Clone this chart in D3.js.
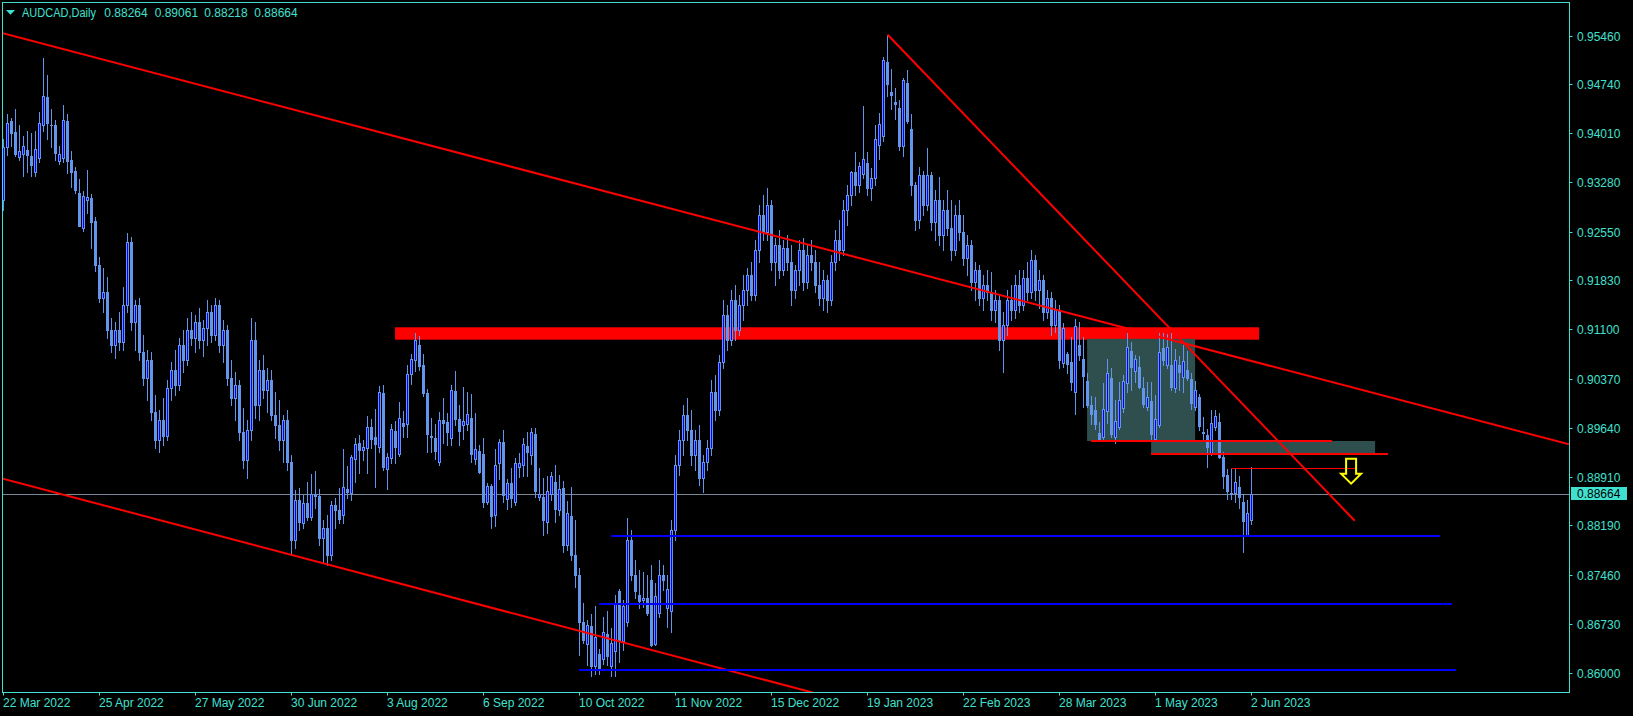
<!DOCTYPE html>
<html><head><meta charset="utf-8">
<script src="https://cdn.jsdelivr.net/npm/d3@7"></script>
<style>html,body{margin:0;padding:0;background:#000;overflow:hidden}</style>
</head><body>
<svg id="c" width="1633" height="716"></svg>
<script>
// ---------- data ----------
const symbolTitle = "AUDCAD,Daily";
const lastBarValues = ["0.88264", "0.89061", "0.88218", "0.88664"];
const priceTicks = [0.95460, 0.94740, 0.94010, 0.93280, 0.92550, 0.91830, 0.91100, 0.90370, 0.89640, 0.88910, 0.88190, 0.87460, 0.86730, 0.86000];
const dateTickBars = [0, 24, 48, 72, 96, 120, 144, 168, 192, 216, 240, 264, 288, 312];
const dateTickLabels = ["22 Mar 2022", "25 Apr 2022", "27 May 2022", "30 Jun 2022", "3 Aug 2022", "6 Sep 2022", "10 Oct 2022", "11 Nov 2022", "15 Dec 2022", "19 Jan 2023", "22 Feb 2023", "28 Mar 2023", "1 May 2023", "2 Jun 2023"];
const currentPrice = 0.88664;

// daily bars, 22 Mar 2022 (bar 0) ... 2 Jun 2023 (bar 312)
const opens = [
.9302,.9380,.9419,.9403,.9366,.9371,.9376,.9367,.9343,.9365,
.9413,.9455,.9413,.9413,.9360,.9365,.9419,.9361,.9345,.9312,
.9261,.9302,.9305,.9271,.9205,.9156,.9165,.9109,.9087,.9109,
.9091,.9146,.9240,.9121,.9146,.9076,.9038,.9065,.8987,.8946,
.8976,.8952,.9023,.9050,.9027,.9087,.9065,.9109,.9097,.9121,
.9094,.9112,.9136,.9102,.9146,.9087,.9109,.9038,.9008,.9027,
.8958,.8916,.8961,.9094,.8998,.9050,.9020,.9035,.8983,.8968,
.8946,.8976,.8913,.8797,.8857,.8823,.8852,.8831,.8866,.8863,
.8800,.8815,.8775,.8849,.8842,.8835,.8873,.8867,.8918,.8941,
.8931,.8934,.8965,.8950,.8935,.9016,.8903,.8919,.8959,.8925,
.8971,.8970,.9044,.9065,.9087,.9057,.9016,.8952,.8949,.8913,
.8976,.8972,.8949,.9019,.8977,.8968,.8970,.8978,.8917,.8929,
.8925,.8854,.8878,.8835,.8912,.8943,.8858,.8882,.8854,.8906,
.8909,.8937,.8924,.8955,.8861,.8861,.8824,.8866,.8883,.8842,
.8875,.8790,.8833,.8775,.8745,.8676,.8643,.8670,.8610,.8628,
.8621,.8658,.8610,.8633,.8722,.8647,.8676,.8797,.8745,.8716,
.8708,.8711,.8738,.8643,.8689,.8745,.8696,.8692,.8812,.8909,
.8946,.8983,.8961,.8924,.8946,.8889,.8913,.8934,.9017,.8990,
.9062,.9131,.9094,.9154,.9109,.9146,.9168,.9191,.9161,.9228,
.9280,.9254,.9295,.9210,.9235,.9198,.9231,.9210,.9168,.9198,
.9228,.9180,.9220,.9210,.9176,.9157,.9183,.9154,.9210,.9243,
.9228,.9287,.9309,.9343,.9324,.9341,.9357,.9320,.9335,.9384,
.9397,.9507,.9462,.9447,.9439,.9382,.9476,.9407,.9324,.9272,
.9339,.9295,.9339,.9269,.9302,.9250,.9287,.9260,.9228,.9280,
.9254,.9216,.9235,.9180,.9198,.9157,.9176,.9165,.9139,.9154,
.9094,.9117,.9154,.9139,.9176,.9146,.9186,.9165,.9213,.9168,
.9183,.9136,.9157,.9117,.9139,.9060,.9073,.9062,.9017,.9087,
.9066,.9033,.8998,.8990,.8956,.8950,.8989,.9038,.8950,.8965,
.8993,.9030,.9078,.9048,.9054,.9023,.8995,.9004,.8947,.8968,
.9082,.9057,.9057,.9023,.9057,.9039,.9050,.9036,.8995,.9010,
.8958,.8953,.8926,.8965,.8973,.8921,.8894,.8867,.8867,.8876,
.8854,.8805,.88264];
const highs = [
.9392,.9429,.9424,.9437,.9413,.9397,.9404,.9401,.9404,.9433,
.9513,.9487,.9437,.9421,.9382,.9443,.9430,.9375,.9351,.9333,
.9315,.9346,.9311,.9277,.9217,.9201,.9188,.9127,.9121,.9136,
.9173,.9253,.9247,.9154,.9157,.9102,.9079,.9076,.9013,.8990,
.9008,.9035,.9062,.9079,.9097,.9109,.9127,.9136,.9131,.9142,
.9124,.9154,.9146,.9157,.9154,.9124,.9117,.9065,.9047,.9035,
.8993,.8976,.9127,.9121,.9065,.9072,.9053,.9050,.9017,.9005,
.8983,.8990,.8924,.8872,.8875,.8864,.8883,.8895,.8900,.8873,
.8827,.8835,.8855,.8860,.8875,.8932,.8907,.8924,.8949,.8953,
.8946,.8981,.8977,.8992,.9026,.9027,.8926,.8970,.8974,.9002,
.8989,.9057,.9073,.9104,.9100,.9073,.9021,.8978,.8970,.8987,
.9008,.8986,.9027,.9048,.8998,.9024,.9017,.9014,.8986,.8938,
.8949,.8882,.8881,.8932,.8947,.8961,.8888,.8904,.8919,.8926,
.8949,.8958,.8964,.8964,.8904,.8889,.8892,.8898,.8909,.8894,
.8885,.8855,.8876,.8827,.8756,.8704,.8679,.8688,.8699,.8636,
.8683,.8692,.8667,.8716,.8725,.8708,.8830,.8812,.8768,.8753,
.8750,.8745,.8760,.8734,.8768,.8760,.8745,.8827,.8924,.8961,
.8998,.9008,.8990,.8961,.8968,.8924,.8946,.9035,.9042,.9072,
.9154,.9146,.9168,.9176,.9161,.9191,.9201,.9210,.9243,.9295,
.9309,.9320,.9302,.9246,.9257,.9243,.9250,.9235,.9206,.9243,
.9246,.9235,.9243,.9228,.9210,.9198,.9191,.9220,.9257,.9272,
.9302,.9324,.9345,.9373,.9358,.9441,.9373,.9349,.9413,.9431,
.9514,.9547,.9496,.9468,.9450,.9483,.9495,.9430,.9329,.9351,
.9345,.9379,.9343,.9317,.9336,.9302,.9317,.9302,.9295,.9302,
.9280,.9250,.9243,.9210,.9206,.9191,.9198,.9195,.9168,.9161,
.9136,.9168,.9176,.9191,.9198,.9198,.9210,.9228,.9220,.9198,
.9191,.9168,.9165,.9154,.9146,.9119,.9076,.9099,.9125,.9121,
.9099,.9045,.9011,.9010,.8973,.9030,.9066,.9053,.9005,.9032,
.9042,.9104,.9091,.9072,.9071,.9039,.9032,.9032,.9013,.9104,
.9104,.9103,.9104,.9081,.9071,.9087,.9078,.9045,.9033,.9014,
.8980,.8962,.8990,.8990,.8986,.8928,.8903,.8903,.8903,.8892,
.8865,.8857,.89061];
const lows = [
.9287,.9369,.9382,.9368,.9361,.9337,.9343,.9337,.9338,.9359,
.9405,.9393,.9380,.9361,.9356,.9359,.9342,.9322,.9313,.9264,
.9256,.9283,.9231,.9196,.9151,.9136,.9097,.9076,.9068,.9079,
.9079,.9136,.9109,.9079,.9065,.9027,.9005,.8976,.8934,.8928,
.8938,.8946,.9005,.9013,.9020,.9047,.9057,.9087,.9076,.9082,
.9071,.9087,.9091,.9094,.9076,.9062,.9027,.8998,.8976,.8946,
.8904,.8889,.8946,.8978,.8976,.9008,.8987,.8976,.8949,.8931,
.8913,.8901,.8775,.8786,.8812,.8815,.8827,.8827,.8845,.8790,
.8765,.8760,.8768,.8815,.8823,.8823,.8860,.8857,.8883,.8897,
.8916,.8897,.8934,.8876,.8928,.8901,.8873,.8912,.8912,.8922,
.8950,.8950,.9029,.9048,.9050,.9011,.8928,.8928,.8917,.8909,
.8941,.8938,.8938,.8968,.8938,.8947,.8961,.8913,.8910,.8897,
.8846,.8851,.8815,.8818,.8888,.8854,.8843,.8846,.8849,.8891,
.8892,.8892,.8910,.8861,.8857,.8805,.8808,.8857,.8824,.8835,
.8780,.8783,.8768,.8728,.8627,.8644,.8612,.8596,.8599,.8599,
.8613,.8612,.8596,.8596,.8616,.8634,.8670,.8738,.8711,.8696,
.8698,.8686,.8640,.8641,.8683,.8723,.8668,.8661,.8797,.8894,
.8924,.8946,.8909,.8901,.8879,.8869,.8901,.8924,.8976,.8983,
.9053,.9079,.9087,.9094,.9102,.9124,.9146,.9154,.9154,.9210,
.9243,.9243,.9198,.9176,.9186,.9191,.9198,.9146,.9157,.9176,
.9168,.9171,.9198,.9165,.9146,.9139,.9136,.9146,.9198,.9213,
.9220,.9265,.9295,.9309,.9314,.9335,.9309,.9302,.9324,.9363,
.9390,.9456,.9437,.9422,.9376,.9367,.9416,.9309,.9257,.9260,
.9280,.9287,.9257,.9243,.9235,.9228,.9250,.9213,.9220,.9243,
.9206,.9191,.9168,.9154,.9146,.9139,.9154,.9124,.9121,.9079,
.9047,.9102,.9124,.9127,.9136,.9139,.9154,.9157,.9154,.9142,
.9124,.9127,.9102,.9106,.9053,.9054,.9045,.9020,.8984,.9065,
.8995,.8995,.8970,.8962,.8946,.8947,.8971,.8950,.8941,.8962,
.8987,.9017,.9020,.9032,.9023,.8995,.8990,.8947,.8944,.8965,
.9057,.9053,.9020,.9017,.9020,.9017,.9035,.8992,.8990,.8961,
.8946,.8906,.8924,.8961,.8919,.8875,.8858,.8858,.8854,.8845,
.8780,.8803,.88218];
const closes = [
.9381,.9416,.9402,.9371,.9374,.9382,.9369,.9354,.9378,.9416,
.9457,.9417,.9413,.9372,.9370,.9421,.9360,.9344,.9317,.9264,
.9308,.9306,.9270,.9205,.9156,.9165,.9109,.9087,.9109,.9091,
.9146,.9240,.9121,.9146,.9076,.9038,.9065,.8987,.8946,.8976,
.8952,.9023,.9050,.9027,.9087,.9065,.9109,.9097,.9121,.9094,
.9112,.9136,.9102,.9146,.9087,.9109,.9038,.9008,.9027,.8958,
.8916,.8961,.9094,.8998,.9050,.9020,.9035,.8983,.8968,.8946,
.8976,.8913,.8797,.8857,.8824,.8852,.8831,.8866,.8863,.8800,
.8815,.8775,.8849,.8842,.8829,.8876,.8869,.8921,.8940,.8931,
.8935,.8965,.8947,.8940,.9017,.8906,.8921,.8962,.8935,.8978,
.8967,.9044,.9066,.9094,.9056,.9016,.8955,.8950,.8929,.8976,
.8971,.8958,.9020,.8977,.8959,.8974,.8984,.8925,.8932,.8898,
.8854,.8878,.8833,.8909,.8943,.8864,.8882,.8860,.8912,.8912,
.8940,.8928,.8958,.8870,.8866,.8827,.8870,.8892,.8843,.8873,
.8790,.8837,.8775,.8745,.8676,.8649,.8671,.8610,.8653,.8607,
.8661,.8625,.8644,.8702,.8647,.8699,.8797,.8745,.8722,.8707,
.8711,.8689,.8641,.8714,.8745,.8738,.8725,.8812,.8909,.8946,
.8983,.8961,.8924,.8946,.8889,.8913,.8934,.9017,.8990,.9062,
.9131,.9094,.9154,.9109,.9146,.9168,.9191,.9161,.9228,.9280,
.9254,.9295,.9210,.9235,.9198,.9231,.9210,.9168,.9198,.9228,
.9180,.9220,.9210,.9176,.9157,.9183,.9154,.9210,.9243,.9228,
.9287,.9309,.9343,.9324,.9352,.9363,.9320,.9335,.9392,.9415,
.9510,.9474,.9458,.9445,.9382,.9480,.9419,.9324,.9272,.9339,
.9295,.9339,.9269,.9302,.9250,.9287,.9260,.9228,.9280,.9254,
.9216,.9235,.9180,.9198,.9157,.9176,.9165,.9139,.9154,.9094,
.9117,.9154,.9139,.9176,.9146,.9186,.9165,.9213,.9168,.9183,
.9136,.9157,.9117,.9139,.9065,.9112,.9059,.9032,.9115,.9072,
.9041,.8998,.8984,.8970,.8947,.8992,.9045,.8955,.8974,.9005,
.9033,.9084,.9054,.9066,.9024,.8999,.9010,.8955,.8977,.9076,
.9065,.9084,.9024,.9065,.9047,.9063,.9038,.9001,.9020,.8967,
.8956,.8935,.8971,.8981,.8921,.8892,.8870,.8866,.8883,.8861,
.8826,.8837,.88664];

// drawn objects: anchors as [bar, price]
const channelRays = [
  [[0, 0.95492], [391, 0.89400]],
  [[0, 0.88881], [200, 0.85746]]
];
const trendSegments = [
  [[221.05, 0.95473], [337.8, 0.88260]]
];
const resistanceBand = {b1: 97.9, b2: 313.9, p1: 0.91131, p2: 0.90947};
const zoneRects = [
  {b1: 270.9, b2: 297.9, p1: 0.9096, p2: 0.89443},
  {b1: 286.9, b2: 342.9, p1: 0.89443, p2: 0.89250}
];
const redLevels = [
  {b1: 271.9, b2: 332.1, p: 0.89443, w: 2},
  {b1: 286.9, b2: 346.1, p: 0.89250, w: 2},
  {b1: 306.9, b2: 337.9, p: 0.89038, w: 1}
];
const blueLevels = [
  {b1: 151.9, b2: 359.1, p: 0.88033},
  {b1: 148.9, b2: 362.1, p: 0.87024},
  {b1: 143.9, b2: 363.1, p: 0.86045}
];
const arrowMark = {b: 336.9, p: 0.88810};

// ---------- drawing ----------
const W = 1633, H = 716;
const FG = "#40E0D0", CANDLE = "#6495ED", BULLFILL = "#0000FF";
const plot = {left: 2.5, top: 2.5, right: 1569.5, bottom: 692.5};
const svg = d3.select("#c");
svg.append("rect").attr("width", W).attr("height", H).attr("fill", "#000");

const x = d3.scaleLinear().domain([0, 312]).range([3.5, 1251.5]);
const y = d3.scaleLinear().domain([0.86, 0.9546]).range([673.0, 35.6]);

svg.append("defs").append("clipPath").attr("id", "plotclip")
  .append("rect").attr("x", 3).attr("y", 3).attr("width", 1566).attr("height", 689);
const g = svg.append("g").attr("clip-path", "url(#plotclip)");

// background objects
g.append("rect")
  .attr("x", x(resistanceBand.b1)).attr("width", x(resistanceBand.b2) - x(resistanceBand.b1))
  .attr("y", y(resistanceBand.p1)).attr("height", y(resistanceBand.p2) - y(resistanceBand.p1))
  .attr("fill", "#FF0000");
zoneRects.forEach(r => {
  g.append("rect")
    .attr("x", x(r.b1)).attr("width", x(r.b2) - x(r.b1))
    .attr("y", y(r.p1)).attr("height", y(r.p2) - y(r.p1))
    .attr("fill", "#2F4F4F");
});
// current price line
const yc = Math.round(y(currentPrice)) + 0.5;
g.append("line").attr("x1", plot.left).attr("x2", plot.right).attr("y1", yc).attr("y2", yc)
  .attr("stroke", "#778899").attr("stroke-width", 1);

// candles
const bars = opens.map((o, k) => ({b: k, o, h: highs[k], l: lows[k], c: closes[k]}));
const cg = g.append("g");
bars.forEach(d => {
  const cx = Math.round(x(d.b) - 0.5) + 0.5;
  const yH = Math.round(y(d.h)), yL = Math.round(y(d.l));
  let yT = Math.round(y(Math.max(d.o, d.c))), yB = Math.round(y(Math.min(d.o, d.c)));
  if (yB - yT < 1) yB = yT;
  cg.append("rect").attr("x", cx - 0.5).attr("width", 1).attr("y", yH).attr("height", Math.max(1, yL - yH + 1)).attr("fill", CANDLE);
  cg.append("rect").attr("x", cx - 1.5).attr("width", 3).attr("y", yT).attr("height", yB - yT + 1).attr("fill", CANDLE);
  if (d.c > d.o && yB - yT >= 2) {
    cg.append("rect").attr("x", cx - 0.5).attr("width", 1).attr("y", yT + 1).attr("height", yB - yT - 1).attr("fill", BULLFILL);
  }
});

// trend lines
const xL = x.invert(plot.left), xR = x.invert(plot.right);
channelRays.forEach(([a, b]) => {
  const slope = (b[1] - a[1]) / (b[0] - a[0]);
  const pAt = t => a[1] + slope * (t - a[0]);
  g.append("line").attr("x1", x(xL)).attr("y1", y(pAt(xL))).attr("x2", x(xR)).attr("y2", y(pAt(xR)))
    .attr("stroke", "#FF0000").attr("stroke-width", 2);
});
trendSegments.forEach(([a, b]) => {
  g.append("line").attr("x1", x(a[0])).attr("y1", y(a[1])).attr("x2", x(b[0])).attr("y2", y(b[1]))
    .attr("stroke", "#FF0000").attr("stroke-width", 2);
});
redLevels.forEach(l => {
  const yy = Math.round(y(l.p)) + (l.w === 1 ? 0.5 : 0);
  g.append("line").attr("x1", x(l.b1)).attr("x2", x(l.b2)).attr("y1", yy).attr("y2", yy)
    .attr("stroke", "#FF0000").attr("stroke-width", l.w);
});
blueLevels.forEach(l => {
  const yy = Math.round(y(l.p));
  g.append("line").attr("x1", x(l.b1)).attr("x2", x(l.b2)).attr("y1", yy).attr("y2", yy)
    .attr("stroke", "#0000FF").attr("stroke-width", 2);
});
// down arrow
{
  const ax = x(arrowMark.b), ay = y(arrowMark.p);
  const pts = [[0, 0], [-10, -10], [-5, -10], [-5, -25], [5, -25], [5, -10], [10, -10]];
  g.append("polygon").attr("points", pts.map(p => [ax + p[0], ay + p[1]].join(",")).join(" "))
    .attr("fill", "none").attr("stroke", "#FFFF00").attr("stroke-width", 2).attr("stroke-linejoin", "miter");
}

// frame
svg.append("rect").attr("x", plot.left).attr("y", plot.top)
  .attr("width", plot.right - plot.left).attr("height", plot.bottom - plot.top)
  .attr("fill", "none").attr("stroke", FG).attr("stroke-width", 1);

const font = "'Liberation Sans', Arial, sans-serif";
// price axis
priceTicks.forEach(p => {
  const yy = Math.round(y(p)) + 0.5;
  svg.append("line").attr("x1", plot.right).attr("x2", plot.right + 3).attr("y1", yy).attr("y2", yy).attr("stroke", FG);
  svg.append("text").attr("x", 1577).attr("y", yy + 4.3).text(p.toFixed(5))
    .attr("fill", FG).attr("font-family", font).attr("font-size", 12);
});
// current price label
svg.append("rect").attr("x", 1571).attr("y", y(currentPrice) - 6.5).attr("width", 56).attr("height", 13).attr("fill", FG);
svg.append("text").attr("x", 1577).attr("y", y(currentPrice) + 4.3).text(currentPrice.toFixed(5))
  .attr("fill", "#000").attr("font-family", font).attr("font-size", 12);

// time axis
dateTickBars.forEach((b, k) => {
  const xx = Math.round(x(b) - 0.5) + 0.5;
  svg.append("line").attr("x1", xx).attr("x2", xx).attr("y1", plot.bottom).attr("y2", plot.bottom + 3).attr("stroke", FG);
  svg.append("text").attr("x", xx - 0.5).attr("y", 707.3).text(dateTickLabels[k])
    .attr("fill", FG).attr("font-family", font).attr("font-size", 12);
});

// title
svg.append("polygon").attr("points", "6,10 15,10 10.5,14.7").attr("fill", FG);
svg.append("text").attr("x", 22).attr("y", 17.3).text(symbolTitle)
  .attr("fill", FG).attr("font-family", font).attr("font-size", 12)
  .attr("textLength", 74).attr("lengthAdjust", "spacingAndGlyphs");
const titleX = [104.3, 154.7, 204.3, 254.3];
lastBarValues.forEach((v, k) => {
  svg.append("text").attr("x", titleX[k]).attr("y", 17.3).text(v)
    .attr("fill", FG).attr("font-family", font).attr("font-size", 12);
});
</script>
</body></html>
